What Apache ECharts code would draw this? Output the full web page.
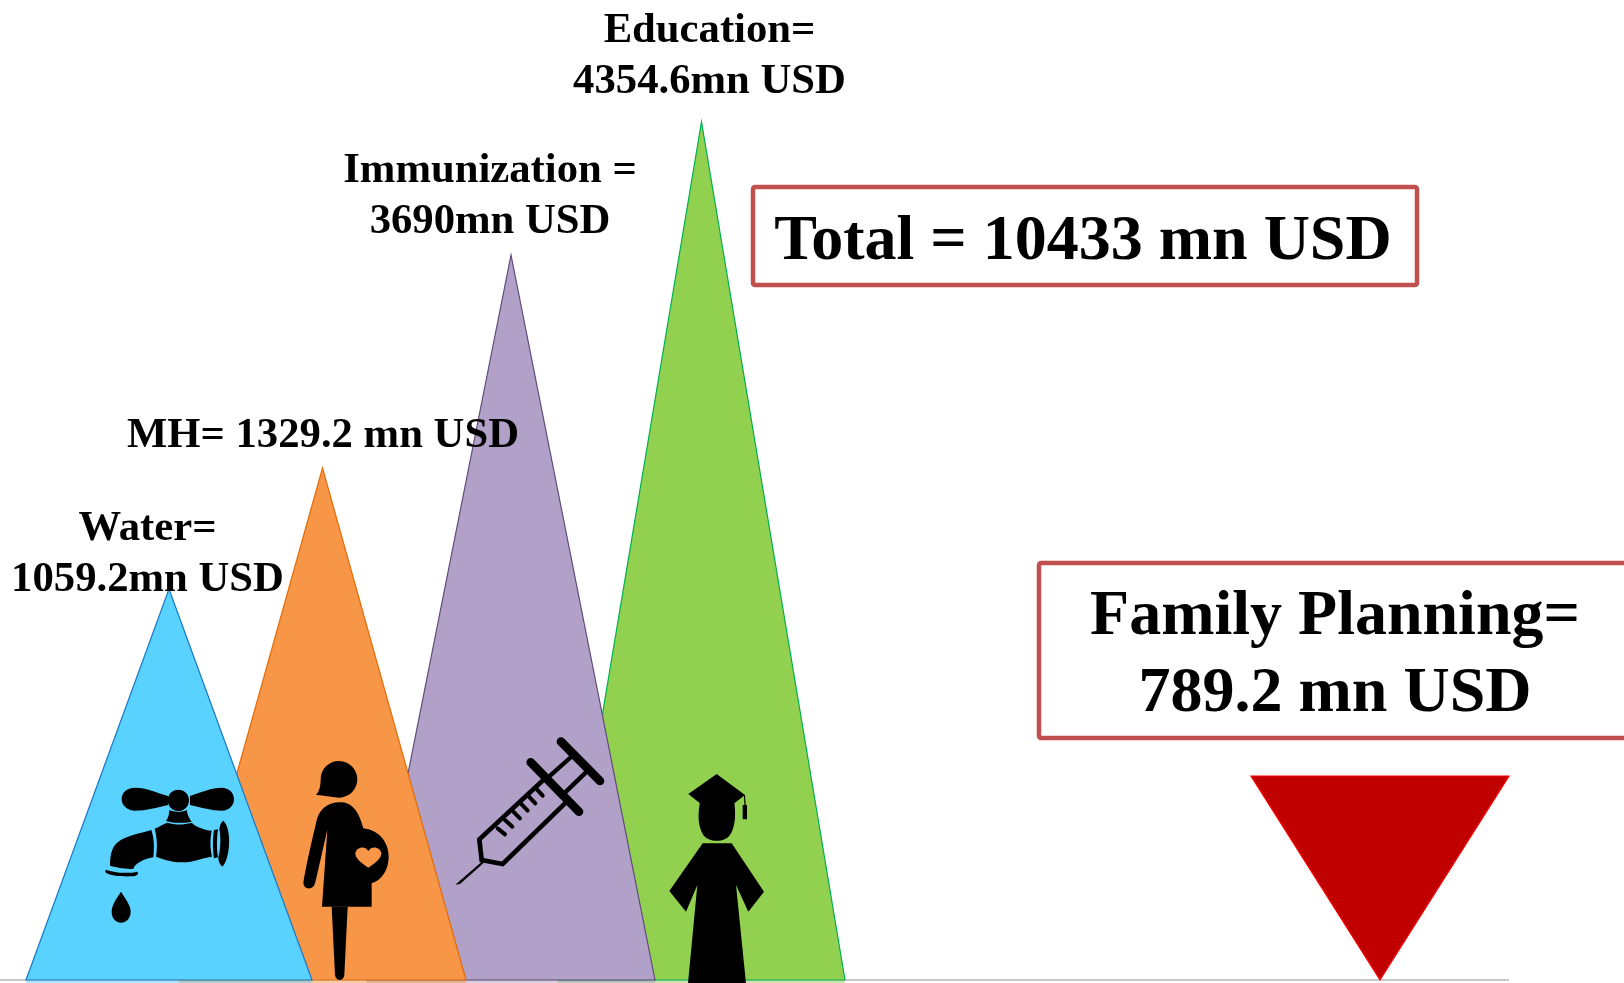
<!DOCTYPE html>
<html>
<head>
<meta charset="utf-8">
<style>html,body{margin:0;padding:0;background:#fff}#c{width:1624px;height:983px}</style>
<script src="https://cdn.jsdelivr.net/npm/echarts@6/dist/echarts.min.js"></script>
</head>
<body>
<div id="c"></div>
<script>
// Data
const categories = ['Water', 'MH', 'Immunization', 'Education', 'Family Planning'];
const amountsMnUsd = [1059.2, 1329.2, 3690, 4354.6, 789.2];
const totalMnUsd = 10433;
// Drawn triangle heights and places, in axis units
// (the picture's heights are not proportional to the amounts)
const drawnHeights = [391, 512, 725, 858, 204];
const xCenters = [169, 322.5, 511, 701.5, 1380];
const baseWidths = [286, 287, 288, 287, 258];
const pointsDown = [false, false, false, false, true];
const baselineEnd = 1509;

// Styles and layout
const FONT = "'Liberation Serif','Times New Roman',serif";
const fills = ['#5AD2FF', '#F79646', '#B1A0C7', '#92D050', '#C00000'];
const strokes = ['#1B78C4', '#E36C09', '#604A7B', '#00B050', '#FF0000'];
const BOX = '#C0504D';

const labels = [
  { lines: ['Water=', '1059.2mn USD'], x: 147.5, y: [529, 580], size: 42.7 },
  { lines: ['MH= 1329.2 mn USD'], x: 323, y: [436], size: 42.7 },
  { lines: ['Immunization =', '3690mn USD'], x: 490, y: [171, 222], size: 42.7 },
  { lines: ['Education=', '4354.6mn USD'], x: 709.5, y: [31, 82], size: 42.7 }
];

// Icons in their own 3x local units
const solid = { fill: '#000' };
const line = w => ({ fill: 'none', stroke: '#000', lineWidth: w, lineCap: 'round', lineJoin: 'miter' });
const icons = [
  { dx: -79, dy: -210, parts: [
    ['M234 78C200 68 170 53 135 53C110 53 95 68 95 87C95 107 113 122 135 122C170 122 200 113 234 105Z', solid],
    ['M300 78C335 66 365 53 395 53C417 53 432 68 432 87C432 107 417 122 395 122C365 122 335 113 300 105Z', solid],
    ['M233 91a32 32 0 1 0 64 0a32 32 0 1 0 -64 0Z', solid],
    ['M238 120C250 127 280 127 290 120C292 135 298 145 305 155C280 160 250 160 228 153C235 145 238 130 238 120Z', solid],
    ['M194 176C205 172 220 162 232 158C255 165 280 165 305 158C320 172 345 180 365 182C360 205 360 235 366 260C340 262 315 277 275 277C245 277 220 268 198 260C202 235 202 205 194 176Z', solid],
    ['M184 180C150 190 110 197 85 215C65 230 60 255 60 287C80 293 110 297 130 297C135 280 160 268 190 262C193 235 193 205 184 180Z', solid],
    ['M48 299C70 308 115 312 142 305C148 312 140 318 125 319C100 320 65 318 50 310C45 307 45 302 48 299Z', solid],
    ['M372 180L384 178C380 205 380 240 384 262L372 265C368 240 368 205 372 180Z', solid],
    ['M388 178C390 165 393 155 400 152C415 165 419 200 417 225C415 255 408 280 397 290C390 285 385 275 385 262C392 240 393 200 388 178Z', solid],
    ['M93 365C80 385 65 405 65 425C65 445 78 458 93 458C108 458 122 445 122 425C122 405 105 385 93 365Z', solid]
  ]},
  { dx: -32.5, dy: -230, parts: [
    ['M92 88C92 55 118 33 147 33C178 33 202 58 202 88C202 118 178 143 147 143C130 143 115 137 78 135C88 125 92 108 92 88Z', solid],
    ['M150 157C185 157 205 180 220 235C265 240 296 275 296 320C296 360 275 390 245 400L245 470L96 470L112 240C100 290 85 360 75 400C72 415 58 418 48 413C40 408 39 400 42 385C52 330 65 275 78 220C85 180 110 157 150 157Z', solid],
    ['M235 353C215 340 195 325 196 310C198 292 225 285 235 303C245 285 272 292 274 310C275 325 255 340 235 353Z', { fill: fills[1] }],
    ['M125 470L173 470L163 675C160 695 138 695 135 675Z', solid]
  ]},
  { dx: -111, dy: -260, parts: [
    ['M483 65L600 183', line(26)],
    ['M392 127L537 275', line(26)],
    ['M447 170L520 105', line(13)],
    ['M495 218L560 155', line(13)],
    ['M430 180L238 358L245 420L308 432L495 250', Object.assign(line(14), { lineCap: 'butt' })],
    ['M250 420L240 430L166 494L180 492L250 430Z', solid],
    ['M293 325L315 343M315 300L337 320M340 275L360 295M362 250L383 272M385 228L406 250M408 205L428 227', line(12)]
  ]},
  { dx: -301.5, dy: -260, parts: [
    ['M865 222L950 162L1035 225L1003 250L900 250Z', solid],
    ['M1032 225L1035 225L1037 255L1041 255L1041 298L1028 298L1028 255L1033 255Z', solid],
    ['M900 245L1003 245C1008 290 1005 320 990 345C975 368 925 368 910 345C895 320 892 290 900 245Z', solid],
    ['M908 370L995 370L1092 515L1045 575L1008 495L1038 790L864 790L892 495L858 575L808 513Z', solid]
  ]},
  null
];

function renderShape(params, api) {
  const i = api.value(0);
  const xc = api.value(1), h = api.value(2), w = api.value(3);
  const base0 = api.coord([xc - w / 2, 0]);
  const base1 = api.coord([xc + w / 2, 0]);
  const apex = api.coord([xc, h]);
  let points;
  if (pointsDown[i]) {
    const tl = api.coord([xc - w / 2, h]), tr = api.coord([xc + w / 2, h]);
    points = [tl, tr, api.coord([xc, 0])];
  } else {
    points = [base0, base1, apex];
  }
  const children = [];
  if (!pointsDown[i]) {
    const r0 = api.coord([xc - w / 2, -0.8]), r1 = api.coord([xc + w / 2, -3]);
    children.push({
      type: 'rect',
      shape: { x: r0[0], y: r0[1], width: r1[0] - r0[0], height: r1[1] - r0[1] },
      style: { fill: fills[i], opacity: 0.5 }
    });
  }
  children.push({
    type: 'polygon',
    shape: { points },
    style: { fill: fills[i], stroke: strokes[i], lineWidth: 1.2, lineJoin: 'miter' }
  });
  const ic = icons[i];
  if (ic) {
    const o = api.coord([xc, 0]);
    children.push({
      type: 'group',
      x: o[0] + ic.dx,
      y: o[1] + ic.dy,
      scaleX: 1 / 3,
      scaleY: 1 / 3,
      children: ic.parts.map(p => ({ type: 'path', shape: { pathData: p[0] }, style: p[1] }))
    });
  }
  return { type: 'group', children };
}

// Water sits on top of MH, MH on Immunization, Immunization on Education
const drawOrder = [3, 2, 1, 0, 4];
const shapeData = drawOrder.map(i => [i, xCenters[i], drawnHeights[i], baseWidths[i]]);

const texts = [];
labels.forEach(l => l.lines.forEach((t, k) => {
  texts.push({
    type: 'text', x: l.x, y: l.y[k], z: 20,
    style: { text: t, font: 'bold ' + l.size + 'px ' + FONT, fill: '#000', textAlign: 'center', textVerticalAlign: 'middle' }
  });
}));

const boxes = [
  { type: 'rect', z: 19, shape: { x: 753, y: 187, width: 664, height: 98, r: 2 },
    style: { fill: '#fff', stroke: BOX, lineWidth: 4.5 } },
  { type: 'rect', z: 19, shape: { x: 1039, y: 563, width: 640, height: 175, r: 2 },
    style: { fill: '#fff', stroke: BOX, lineWidth: 4.5 } },
  { type: 'text', z: 20, x: 1083, y: 242,
    style: { text: 'Total = ' + totalMnUsd + ' mn USD', font: 'bold 64px ' + FONT, fill: '#000', textAlign: 'center', textVerticalAlign: 'middle' } },
  { type: 'text', z: 20, x: 1335, y: 617,
    style: { text: categories[4] + '=', font: 'bold 64px ' + FONT, fill: '#000', textAlign: 'center', textVerticalAlign: 'middle' } },
  { type: 'text', z: 20, x: 1335, y: 694,
    style: { text: amountsMnUsd[4] + ' mn USD', font: 'bold 64px ' + FONT, fill: '#000', textAlign: 'center', textVerticalAlign: 'middle' } }
];

const chart = echarts.init(document.getElementById('c'), null, { renderer: 'canvas' });
chart.setOption({
  backgroundColor: '#fff',
  animation: false,
  grid: { left: 0, right: 0, top: 0, bottom: 0 },
  xAxis: { type: 'value', min: 0, max: 1624, show: false },
  yAxis: { type: 'value', min: -3, max: 980, show: false },
  graphic: { elements: boxes.concat(texts) },
  series: [
    {
      type: 'line', silent: true, symbol: 'none', z: 1,
      data: [[0, 0], [baselineEnd, 0]],
      lineStyle: { color: '#C8C8C8', width: 2 }
    },
    {
      type: 'custom', silent: true, z: 2, clip: false,
      encode: { x: 1, y: 2 },
      data: shapeData,
      renderItem: renderShape
    }
  ]
});
</script>
</body>
</html>
